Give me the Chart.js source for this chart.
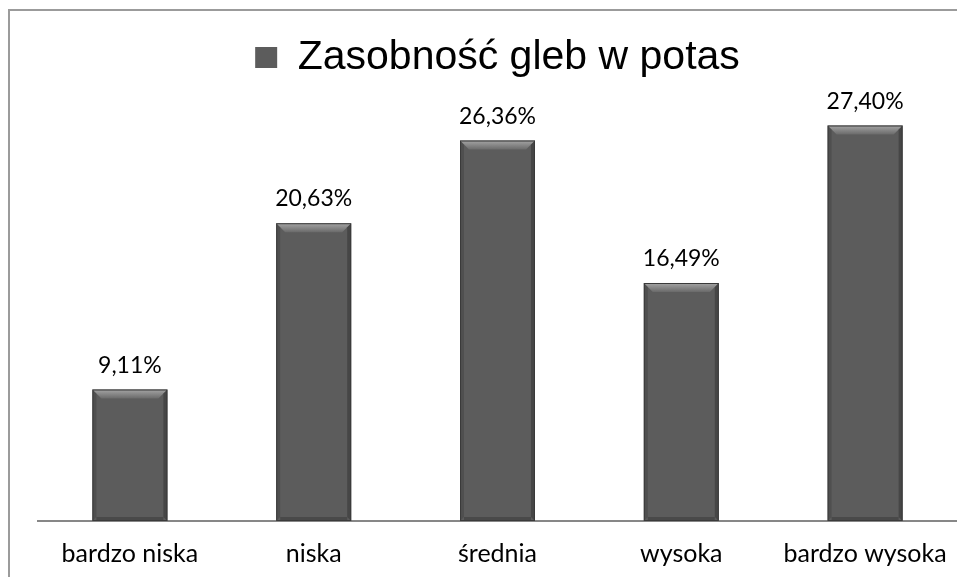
<!DOCTYPE html>
<html>
<head>
<meta charset="utf-8">
<script src="https://cdn.jsdelivr.net/npm/chart.js@4.4.1/dist/chart.umd.min.js"></script>
<style>
  html, body { margin: 0; padding: 0; background: #fff; overflow: hidden; }
  #wrap { width: 957px; height: 577px; position: relative; overflow: hidden; }
</style>
</head>
<body>
<div id="wrap"><canvas id="chart" width="957" height="585"></canvas></div>
<script>
// data
const categories = ['bardzo niska', 'niska', 'średnia', 'wysoka', 'bardzo wysoka'];
const shares = [9.11, 20.63, 26.36, 16.49, 27.40];
const seriesName = 'Zasobność gleb w potas';

// outer frame of the chart area (only top/left edges are visible)
const framePlugin = {
    id: 'frame',
    beforeDraw(chart) {
        const ctx = chart.ctx;
        ctx.save();
        ctx.strokeStyle = '#9b9b9b';
        ctx.lineWidth = 2;
        ctx.strokeRect(9, 10, chart.width + 50, chart.height + 50);
        ctx.restore();
    }
};

// bevelled look of the bars + value labels
const barDecor = {
    id: 'barDecor',
    afterDatasetsDraw(chart) {
        const ctx = chart.ctx;
        const meta = chart.getDatasetMeta(0);
        meta.data.forEach((bar, i) => {
            const left = bar.x - bar.width / 2;
            const right = bar.x + bar.width / 2;
            const top = bar.y;
            const bottom = bar.base;
            const b = 9;
            ctx.save();
            // top bevel
            let g = ctx.createLinearGradient(0, top, 0, top + b);
            g.addColorStop(0, '#a5a5a5');
            g.addColorStop(1, '#6a6a6a');
            ctx.fillStyle = g;
            ctx.beginPath();
            ctx.moveTo(left, top);
            ctx.lineTo(right, top);
            ctx.lineTo(right - b, top + b);
            ctx.lineTo(left + b, top + b);
            ctx.closePath();
            ctx.fill();
            // side bevels
            ctx.fillStyle = 'rgba(30,30,30,0.35)';
            ctx.beginPath();
            ctx.moveTo(right, top);
            ctx.lineTo(right, bottom);
            ctx.lineTo(right - 4, bottom - 4);
            ctx.lineTo(right - 4, top + 4);
            ctx.closePath();
            ctx.fill();
            ctx.fillStyle = 'rgba(30,30,30,0.2)';
            ctx.beginPath();
            ctx.moveTo(left, top);
            ctx.lineTo(left, bottom);
            ctx.lineTo(left + 4, bottom - 4);
            ctx.lineTo(left + 4, top + 4);
            ctx.closePath();
            ctx.fill();
            ctx.fillStyle = 'rgba(30,30,30,0.3)';
            ctx.fillRect(left + 4, bottom - 4, bar.width - 8, 4);
            // outline
            ctx.strokeStyle = '#3a3a3a';
            ctx.lineWidth = 1;
            ctx.strokeRect(left + 0.5, top + 0.5, bar.width - 1, bottom - top - 1);
            // value label
            ctx.fillStyle = '#000';
            ctx.font = '23px Lato, "Open Sans", sans-serif';
            ctx.textAlign = 'center';
            ctx.textBaseline = 'alphabetic';
            ctx.fillText(shares[i].toFixed(2).replace('.', ',') + '%', bar.x, top - 17);
            ctx.restore();
        });
    }
};

new Chart(document.getElementById('chart'), {
    type: 'bar',
    data: {
        labels: categories,
        datasets: [{
            label: seriesName,
            data: shares,
            backgroundColor: '#5c5c5c',
            borderWidth: 0,
            categoryPercentage: 1,
            barPercentage: 0.408
        }]
    },
    options: {
        responsive: false,
        animation: false,
        layout: { padding: { left: 38, right: 0, top: 27, bottom: 6 } },
        plugins: {
            legend: {
                display: true,
                position: 'top',
                labels: {
                    color: '#000',
                    font: { family: '"Liberation Sans", Arial, sans-serif', size: 41 },
                    boxWidth: 22,
                    boxHeight: 21,
                    padding: 10
                }
            },
            tooltip: { enabled: false }
        },
        scales: {
            x: {
                grid: { display: false },
                border: { display: true, color: '#878787', width: 2 },
                ticks: {
                    color: '#000',
                    font: { family: 'Lato, "Open Sans", sans-serif', size: 25 },
                    padding: 10
                }
            },
            y: {
                display: false,
                min: 0,
                max: 30
            }
        }
    },
    plugins: [framePlugin, barDecor]
});
</script>
</body>
</html>
